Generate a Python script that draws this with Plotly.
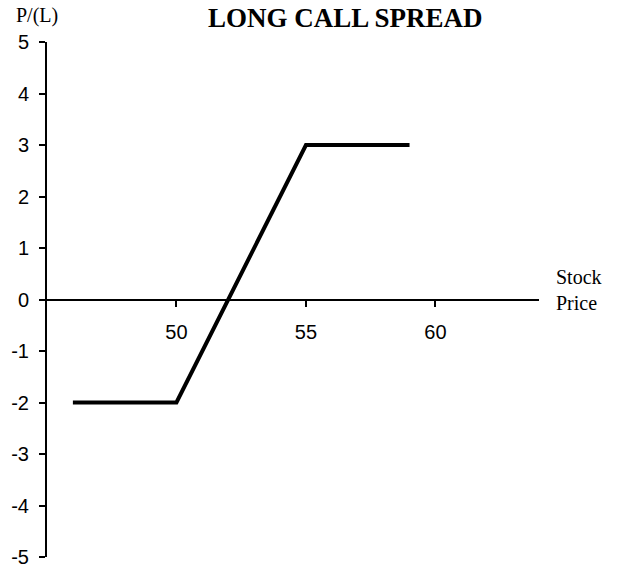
import plotly.graph_objects as go

# payoff of the long call spread (buy 50 call, sell 55 call, net debit 2)
stock_price = [46, 50, 55, 59]
profit_loss = [-2, -2, 3, 3]

x_ticks = [50, 55, 60]
y_ticks = [-5, -4, -3, -2, -1, 0, 1, 2, 3, 4, 5]
y_labels = [str(v) for v in y_ticks]  # plain hyphen minus, as in the original

trace = go.Scatter(
    x=stock_price,
    y=profit_loss,
    mode='lines',
    line=dict(color='black', width=4),
    showlegend=False
)

layout = go.Layout(
    width=618, height=567,
    paper_bgcolor='white', plot_bgcolor='white',
    margin=dict(l=47, r=79, t=42, b=10),
    font=dict(family='Arial', size=20, color='black'),
    xaxis=dict(
        range=[45, 64], tickvals=x_ticks, ticktext=[str(v) for v in x_ticks],
        showgrid=False, zeroline=False, automargin=False,
        showline=True, linecolor='black', linewidth=2,
        ticks='outside', ticklen=6, tickwidth=2, tickcolor='black',
        anchor='free', position=0.5,
        ticklabelstandoff=8
    ),
    yaxis=dict(
        range=[-5, 5], tickvals=y_ticks, ticktext=y_labels,
        showgrid=False, zeroline=False, automargin=False,
        showline=True, linecolor='black', linewidth=2,
        ticks='outside', ticklen=6, tickwidth=2, tickcolor='black',
        ticklabelstandoff=6, ticklabeloverflow='allow'
    ),
)

# text placed by pixel position (centre), converted to paper coordinates
pw = 618 - 47 - 79
ph = 567 - 42 - 10
texts = [
    ('<b>LONG CALL SPREAD</b>', 345, 18, 27),
    ('P/(L)', 37, 15, 20),
    ('Stock<br>Price', 579, 290, 20),
]
for txt, px, py, size in texts:
    layout.annotations += (dict(
        text=txt, x=(px - 47) / pw, y=1 - (py - 42) / ph,
        xref='paper', yref='paper', xanchor='center', yanchor='middle',
        showarrow=False, align='left',
        font=dict(family='Liberation Serif', size=size)
    ),)

fig = go.Figure(data=[trace], layout=layout)
# drop the default body margin so the figure fills the window exactly
fig.write_html('out.html', config={'displayModeBar': False},
               post_script="document.body.style.margin='0';")
